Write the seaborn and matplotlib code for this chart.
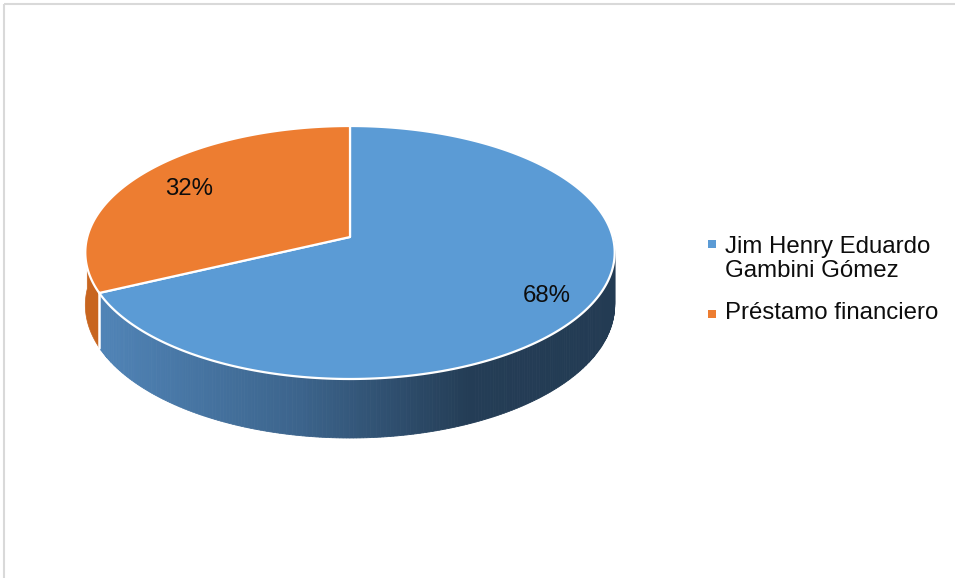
import numpy as np
import matplotlib
matplotlib.use("Agg")
import matplotlib.pyplot as plt
import seaborn as sns
from matplotlib.patches import Polygon, Rectangle

# ---- data ----
labels = ["Jim Henry Eduardo\nGambini Gómez", "Préstamo financiero"]
values = [68, 32]
pct_labels = ["68%", "32%"]

sns.set_theme(style="white")
plt.rcParams['font.family'] = ['Liberation Sans', 'DejaVu Sans']
colors = ["#5B9BD5", "#ED7D31"]
side_orange = "#C8651F"
text_color = "#0d0d0d"

fig = plt.figure(figsize=(9.55, 5.78), dpi=100)
ax = fig.add_axes([0, 0, 1, 1])
ax.set_xlim(0, 955)
ax.set_ylim(578, 0)
ax.axis('off')

# perspective projection of a tilted disc
cx, cy = 350.0, 237.0      # projected centre (apex)
A, B, p = 262.7, 124.6, 0.1225
depth = 59.0


def proj(a_deg, r=1.0, dz=0.0):
    a = np.deg2rad(np.atleast_1d(a_deg))
    s = np.sin(a) * r
    d = 1.0 + p * s
    x = cx + A * r * np.cos(a) / d
    y = cy - B * s / d
    if dz:
        y = y + dz * (1 - p) / d
    return np.column_stack([x, y])


total = float(sum(values))
spans = []
start = 90.0
for v in values:
    end = start - v / total * 360.0
    spans.append((end, start))
    start = end


def blue_side_color(x):
    xs = [100, 300, 470, 615]
    cs = np.array([[80, 132, 183], [60, 100, 140], [36, 61, 86], [35, 59, 83]]) / 255.0
    return tuple(np.interp(x, xs, cs[:, k]) for k in range(3))


def visible(a0, a1):
    for shift in (0, 360, -360, 720):
        lo, hi = max(a0 + shift, 180), min(a1 + shift, 360)
        if hi > lo:
            return lo, hi
    return None


# ---- side faces (front half) ----
for i, (a0, a1) in enumerate(spans):
    vis = visible(a0, a1)
    if vis is None:
        continue
    lo, hi = vis
    if i == 0:
        edges = np.linspace(lo, hi, 240)
        for e0, e1 in zip(edges[:-1], edges[1:]):
            arc = np.linspace(e0, e1, 3)
            top = proj(arc)
            bot = proj(arc[::-1], dz=depth)
            col = blue_side_color(top[:, 0].mean())
            ax.add_patch(Polygon(np.vstack([top, bot]), closed=True,
                                 fc=col, ec=col, lw=0.6))
    else:
        arc = np.linspace(lo, hi, 60)
        poly = np.vstack([proj(arc), proj(arc[::-1], dz=depth)])
        ax.add_patch(Polygon(poly, closed=True, fc=side_orange, ec=side_orange, lw=0.5))

# white seam on the side at the visible boundary
seam = spans[0][0] % 360
if 180 <= seam <= 360:
    p_top = proj(seam)[0]
    p_bot = proj(seam, dz=depth)[0]
    ax.plot([p_top[0], p_bot[0]], [p_top[1], p_bot[1]], color="white", lw=1.8)

# ---- top faces ----
for i, (a0, a1) in enumerate(spans):
    arc = np.linspace(a1, a0, 240)
    poly = np.vstack([[cx, cy], proj(arc)])
    ax.add_patch(Polygon(poly, closed=True, fc=colors[i], ec="white", lw=1.6,
                         joinstyle="round"))

# ---- percentage labels ----
label_r = [0.84, 0.76]
for i, (a0, a1) in enumerate(spans):
    mid = (a0 + a1) / 2.0
    pos = proj(mid, r=label_r[i])[0]
    ax.text(pos[0], pos[1], pct_labels[i], ha="center", va="center",
            fontsize=17.3, color=text_color)

# ---- legend ----
leg_y = [259, 313]
mark_y = [244, 314]
for i, lab in enumerate(labels):
    ax.scatter([712], [mark_y[i]], marker="s", s=40, color=colors[i], linewidths=0)
    ax.text(725, leg_y[i], lab, ha="left", va="center", fontsize=17.3,
            color=text_color, linespacing=1.17)

# ---- chart border ----
ax.add_patch(Rectangle((3.5, 3.5), 1000, 700, fill=False, ec="#d9d9d9", lw=1.5))

fig.savefig("out.png", dpi=100)
